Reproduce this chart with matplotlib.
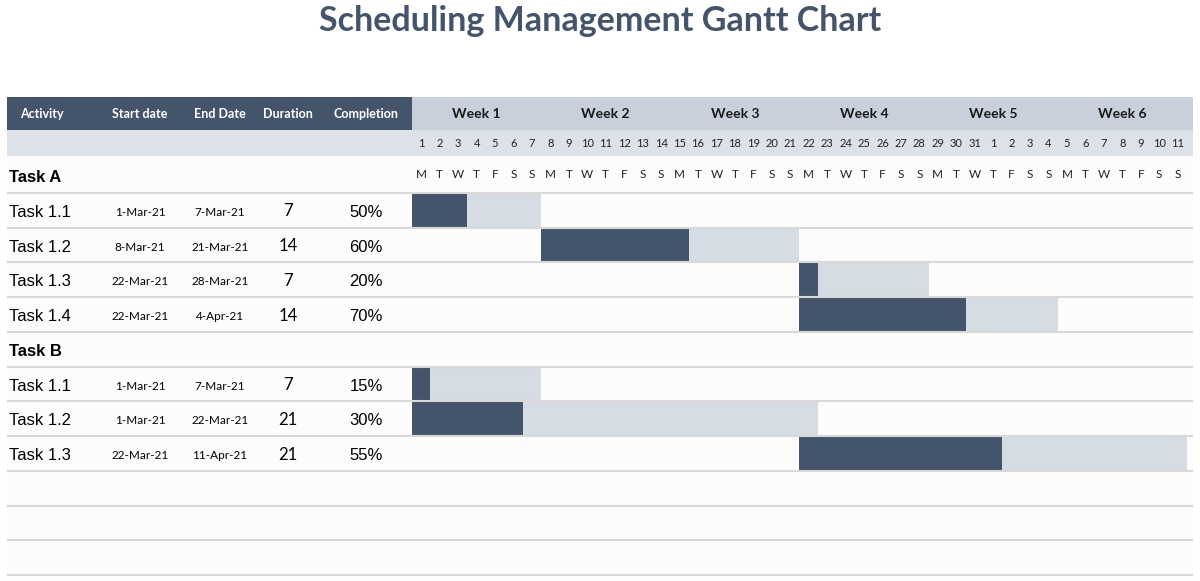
import matplotlib
matplotlib.use('Agg')
import matplotlib.pyplot as plt
import matplotlib.transforms as mtransforms
from matplotlib.patches import Rectangle
import numpy as np
import pandas as pd

title = "Scheduling Management Gantt Chart"
columns = ["Activity", "Start date", "End Date", "Duration", "Completion"]
groups = ["Task A", "Task B"]
task_group = ["Task A", "Task A", "Task A", "Task A", "Task B", "Task B", "Task B"]
task_names = ["Task 1.1", "Task 1.2", "Task 1.3", "Task 1.4", "Task 1.1", "Task 1.2", "Task 1.3"]
start_dates = ["1-Mar-21", "8-Mar-21", "22-Mar-21", "22-Mar-21", "1-Mar-21", "1-Mar-21", "22-Mar-21"]
end_dates = ["7-Mar-21", "21-Mar-21", "28-Mar-21", "4-Apr-21", "7-Mar-21", "22-Mar-21", "11-Apr-21"]
durations = [7, 14, 7, 14, 7, 21, 21]
completion = [50, 60, 20, 70, 15, 30, 55]
weeks = ["Week 1", "Week 2", "Week 3", "Week 4", "Week 5", "Week 6"]
chart_start = "2021-03-01"
n_days = 42
empty_rows = 3

DARK = "#44546A"
LIGHT = "#D6DCE4"
HEAD_LIGHT = "#C8D0DB"
SUBHEAD = "#DDE1E8"
ROW_BG = "#FCFCFC"
LINE = "#D9D9D9"

# row order: group header, then its tasks; blank rows at the end
rows = []
for g in groups:
    rows.append(("group", g))
    for i, tg in enumerate(task_group):
        if tg == g:
            rows.append(("task", i))
rows += [("empty", None)] * empty_rows
n_rows = len(rows)

t0 = pd.Timestamp(chart_start)
start = pd.to_datetime(start_dates, format="%d-%b-%y")
end = pd.to_datetime(end_dates, format="%d-%b-%y")
start_off = np.asarray((start - t0).days)
span = np.asarray((end - start).days) + 1
done = np.floor(np.array(completion) / 100 * np.array(durations))

days = pd.date_range(chart_start, periods=n_days)
day_letters = ["M", "T", "W", "T", "F", "S", "S"]

W, H = 1200, 581
tab_left, tab_right, split = 7, 1193, 412
head_top, head_mid, head_bot = 97, 130, 156
rows_top, rows_bot = 158.3, 575
px_day = 18.45

fig = plt.figure(figsize=(12, 5.81), dpi=100)
ax = fig.add_axes([0, 0, 1, 1])
ax.set_xlim(0, W)
ax.set_ylim(H, 0)
ax.axis('off')

gx = fig.add_axes([split / W, 1 - rows_bot / H, (tab_right - split) / W, (rows_bot - rows_top) / H])
gx.set_xlim(0, (tab_right - split) / px_day)
gx.set_ylim(n_rows, 0)
gx.axis('off')

tab = mtransforms.blended_transform_factory(ax.transData, gx.transData)
head = mtransforms.blended_transform_factory(gx.transData, ax.transData)

# title
ax.text(W / 2, 21, title, ha='center', va='center', fontsize=24.5, fontweight='bold',
        family='Lato', color=DARK)

# header backgrounds
ax.add_patch(Rectangle((tab_left, head_top), split - tab_left, head_mid - head_top, color=DARK, lw=0))
ax.add_patch(Rectangle((split, head_top), tab_right - split, head_mid - head_top, color=HEAD_LIGHT, lw=0))
ax.add_patch(Rectangle((tab_left, head_mid), tab_right - tab_left, head_bot - head_mid, color=SUBHEAD, lw=0))
ax.add_patch(Rectangle((tab_left, head_bot), tab_right - tab_left, rows_bot - head_bot, color=ROW_BG, lw=0))

col_x = [42, 140, 220, 288, 366]
for cx, name in zip(col_x, columns):
    ax.text(cx, 114, name, ha='center', va='center', fontsize=9, fontweight='bold',
            family='Lato', color='white')

for k, wk in enumerate(weeks):
    ax.text(k * 7 + 3.5, 114, wk, transform=head, ha='center', va='center',
            fontsize=10, fontweight='bold', family='Lato', color='#1a1a1a')

for d, day in enumerate(days):
    ax.text(d + 0.5, 143.5, str(day.day), transform=head, ha='center', va='center',
            fontsize=8, family='Lato', color='#222222')
    ax.text(d + 0.5, 174.5, day_letters[day.weekday()], transform=head, ha='center', va='center',
            fontsize=8.5, family='Lato', color='#222222')

# rows
for r, (kind, item) in enumerate(rows):
    yc = r + 0.5
    yt = yc + 0.06
    if kind == "group":
        ax.text(9, yt, item, transform=tab, ha='left', va='center', fontsize=12,
                fontweight='bold', family='Liberation Sans', color='black')
    elif kind == "task":
        i = item
        ax.text(9, yt, task_names[i], transform=tab, ha='left', va='center', fontsize=12,
                family='Liberation Sans', color='black')
        ax.text(col_x[1], yt, start_dates[i], transform=tab, ha='center', va='center',
                fontsize=8.5, family='Lato', color='black')
        ax.text(col_x[2], yt, end_dates[i], transform=tab, ha='center', va='center',
                fontsize=8.5, family='Lato', color='black')
        ax.text(col_x[3], yt - 0.03, str(durations[i]), transform=tab, ha='center', va='center',
                fontsize=12, family='Lato', color='black')
        ax.text(col_x[4], yt, f"{completion[i]}%", transform=tab, ha='center', va='center',
                fontsize=12, family='Liberation Sans', color='black')
        gx.barh(yc, span[i], left=start_off[i], height=1.0, color=LIGHT, lw=0)
        gx.barh(yc, done[i], left=start_off[i], height=1.0, color=DARK, lw=0)

for r in range(1, n_rows + 1):
    gx.plot([tab_left, tab_right], [r, r], transform=tab, color=LINE, lw=1.5,
            clip_on=False, solid_capstyle='butt')

plt.savefig("out.png", dpi=100)
plt.close()
